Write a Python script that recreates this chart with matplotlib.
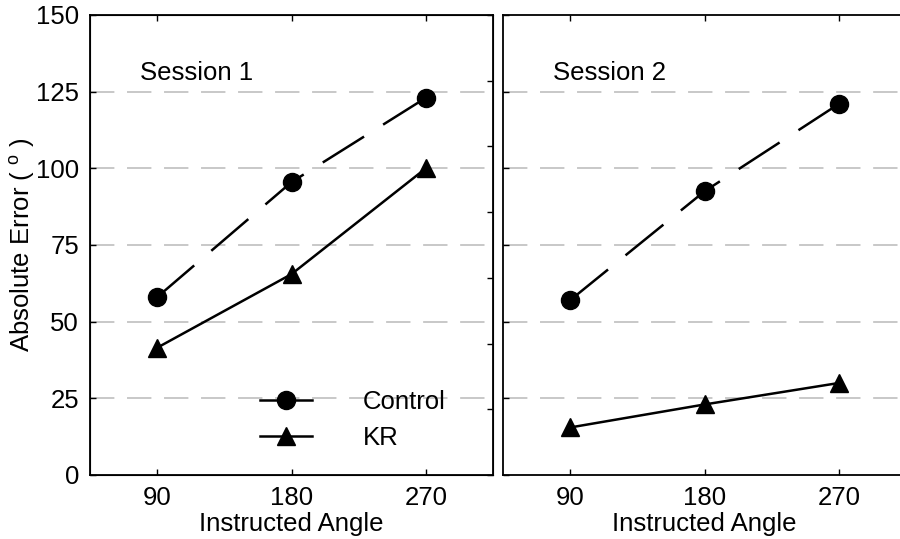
import numpy as np
import matplotlib.pyplot as plt
from matplotlib.lines import Line2D

plt.rcParams['font.family'] = ['Liberation Sans', 'DejaVu Sans']

# ---------- Dados ----------
angles = [90, 180, 270]
s1_control = [58, 95.5, 123]
s1_kr = [41.5, 65.5, 100]
s2_control = [57, 92.5, 121]
s2_kr = [15.5, 23, 30]
sessions = ["Session 1", "Session 2"]
yticks = [0, 25, 50, 75, 100, 125, 150]

FS = 18.5
LW = 1.8
MS = 13
DASH = (0, (19.5, 9))
GRID = (0, (13.5, 7))

fig = plt.figure(figsize=(9, 5.39), dpi=100)
W, H = 900, 539
ax1 = fig.add_axes([90 / W, 1 - 475 / H, 403 / W, 460 / H])
ax2 = fig.add_axes([503 / W, 1 - 475 / H, 403 / W, 460 / H])

for ax, ctrl, kr, title in [(ax1, s1_control, s1_kr, sessions[0]),
                            (ax2, s2_control, s2_kr, sessions[1])]:
    ax.set_xlim(45, 315)
    ax.set_ylim(0, 150)
    ax.set_xticks(angles)
    ax.set_yticks(yticks)
    for y in yticks[1:-1]:
        ax.axhline(y, color="#c4c4c4", lw=1.3, linestyle=GRID, zorder=0)
    ax.plot(angles, ctrl, color="black", lw=LW, linestyle=DASH,
            marker="o", markersize=MS, label="Control", zorder=3)
    ax.plot(angles, kr, color="black", lw=LW, linestyle="-",
            marker="^", markersize=MS, label="KR", zorder=3)
    ax.text(0.125, 0.875, title, transform=ax.transAxes, fontsize=FS,
            ha="left", va="center")
    ax.tick_params(direction="in", length=4, width=1, labelsize=FS,
                   top=True, pad=8)
    ax.set_xlabel("Instructed Angle", fontsize=FS, labelpad=1)
    for s in ax.spines.values():
        s.set_linewidth(1.3)

ax1.set_ylabel(r"Absolute Error ( $^\mathregular{o}$ )", fontsize=FS, labelpad=-1)
ax2.tick_params(labelleft=False)
ax2.spines["right"].set_visible(False)
ax1.tick_params(right=False)

# ticks extras na borda direita do painel esquerdo
axr = ax1.twinx()
axr.set_ylim(0, 7)
axr.set_yticks(range(8))
axr.tick_params(direction="in", length=4, width=1, labelright=False)

handles = [Line2D([], [], color="black", lw=LW, marker="o", markersize=MS),
           Line2D([], [], color="black", lw=LW, marker="^", markersize=MS)]
ax1.legend(handles, ["Control", "KR"], loc="lower left",
           bbox_to_anchor=(0.365, 0.005), frameon=False, fontsize=FS,
           handlelength=2.0, handletextpad=2.0, labelspacing=0.45)

fig.savefig("out.png", dpi=100)
